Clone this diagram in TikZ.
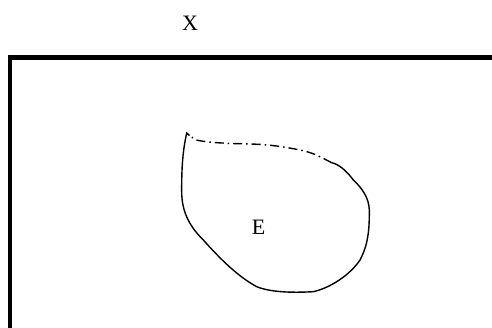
\documentclass[tikz,border=0pt]{standalone}
\usepackage{fontspec}
\setmainfont{Liberation Serif}
\usetikzlibrary{positioning}

\begin{document}
\begin{tikzpicture}[
   x=1pt,y=-1pt,
   every node/.style={font=\fontsize{22}{26}\selectfont},
   lbl/.style={inner sep=0pt},
   frame/.style={line width=4.5pt},
   blob/.style={line width=1.4pt},
   blobdash/.style={line width=1.4pt,dash pattern=on 9pt off 4pt on 1.5pt off 4pt}
]
\useasboundingbox (0,0) rectangle (492,328);

% Space X
\node[lbl] (X) at (190,23.5) {X};
\draw[frame] (10,340) -- (10,57.5) -- (500,57.5);

% Set E
\node[lbl] (E) at (258.5,227) {E};
\draw[blob] (189.5,135.5) -- (186.7,133) .. controls (183,150) and (181.5,165) .. (181.7,193)
   .. controls (182,210) and (188,225) .. (203.3,240)
   .. controls (215,253) and (235,275) .. (256.7,286.7)
   .. controls (270,292) and (290,293) .. (313.3,291.7)
   .. controls (330,288) and (350,275) .. (360,260)
   .. controls (368,245) and (369.5,230) .. (369.3,210)
   .. controls (369,198) and (362,188) .. (353.3,180)
   .. controls (346,170) and (338,164) .. (331.7,162.7);
\draw[blobdash] (331.7,162.7) .. controls (322,158) and (315,153) .. (300,150)
   .. controls (285,147) and (270,144.5) .. (250,144)
   .. controls (230,143.5) and (210,143) .. (196,140)
   -- (189.5,135.5);

\end{tikzpicture}
\end{document}
